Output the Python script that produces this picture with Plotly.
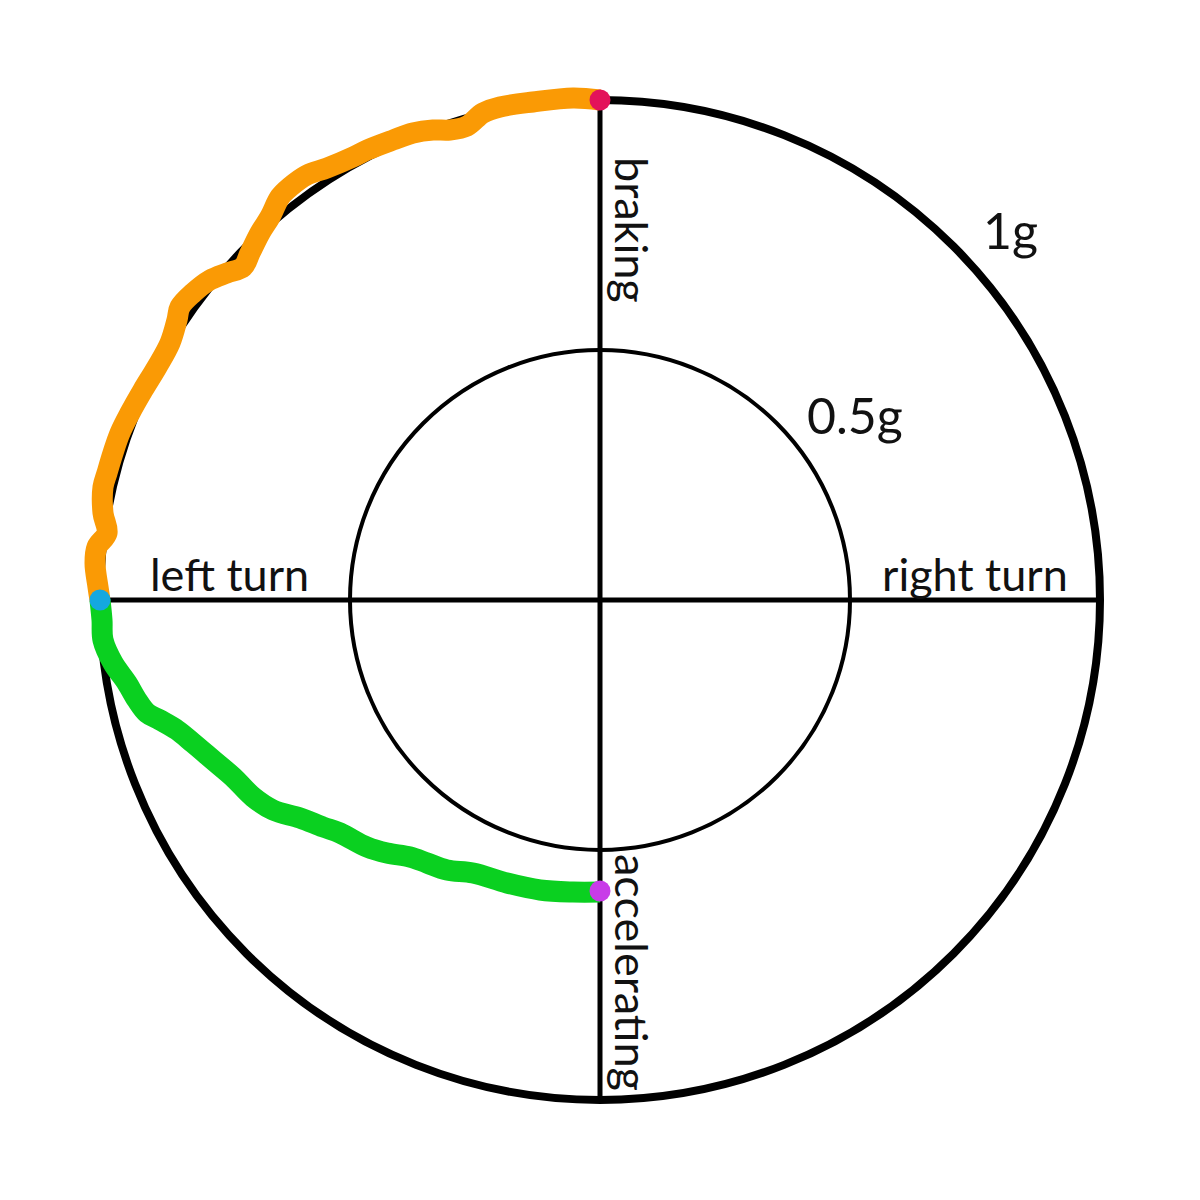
import plotly.graph_objects as go

# Friction circle rings (g)
ring_radii = [1.0, 0.5]
ring_widths = [8, 4]
ring_labels = ["1g", "0.5g"]
ring_label_x = [0.82, 0.51]
ring_label_y = [0.74, 0.37]

# Axis labels
axis_labels = ["left turn", "right turn", "braking", "accelerating"]
axis_label_x = [-0.742, 0.75, 0.064, 0.064]
axis_label_y = [0.052, 0.052, 0.74, -0.744]
axis_label_angle = [0, 0, 90, 90]

# Braking into left turn (lateral g, longitudinal g)
brake_x = [0, -0.054, -0.134, -0.2, -0.234, -0.266, -0.3, -0.334, -0.374, -0.414,
           -0.466, -0.494, -0.546, -0.586, -0.62, -0.64, -0.66, -0.68, -0.7, -0.714,
           -0.746, -0.78, -0.814, -0.84, -0.846, -0.86, -0.886, -0.914, -0.94, -0.96,
           -0.974, -0.986, -0.994, -0.994, -0.986, -1.006, -1.01, -1.004, -1.0]
brake_y = [1.0, 1.004, 0.996, 0.986, 0.974, 0.948, 0.94, 0.94, 0.934, 0.92,
           0.9, 0.886, 0.864, 0.85, 0.826, 0.806, 0.766, 0.734, 0.694, 0.666,
           0.654, 0.64, 0.614, 0.586, 0.56, 0.514, 0.466, 0.42, 0.374, 0.334,
           0.294, 0.254, 0.226, 0.174, 0.134, 0.106, 0.074, 0.026, 0.0]

# Accelerating out of left turn
accel_x = [-1.0, -0.996, -0.994, -0.974, -0.946, -0.926, -0.906, -0.88, -0.846,
           -0.814, -0.774, -0.734, -0.694, -0.654, -0.6, -0.554, -0.52, -0.466,
           -0.426, -0.38, -0.346, -0.306, -0.254, -0.186, -0.12, -0.054, 0]
accel_y = [0, -0.04, -0.08, -0.126, -0.166, -0.2, -0.226, -0.24, -0.26,
           -0.286, -0.32, -0.354, -0.394, -0.42, -0.436, -0.454, -0.466, -0.494,
           -0.506, -0.514, -0.526, -0.54, -0.546, -0.566, -0.58, -0.584, -0.584]

# Key points
pt_x = [0, -1.0, 0]
pt_y = [1.0, 0.0, -0.582]
pt_colors = ["#E3125A", "#14A8E0", "#C83CE8"]

fig = go.Figure()

shapes = []
for r, w in zip(ring_radii, ring_widths):
    shapes.append(dict(type="circle", xref="x", yref="y", x0=-r, y0=-r, x1=r, y1=r,
                       line=dict(color="black", width=w), layer="below"))
R = ring_radii[0]
shapes.append(dict(type="line", xref="x", yref="y", x0=-R, y0=0, x1=R, y1=0,
                   line=dict(color="black", width=5), layer="below"))
shapes.append(dict(type="line", xref="x", yref="y", x0=0, y0=-R, x1=0, y1=R,
                   line=dict(color="black", width=5), layer="below"))

fig.add_trace(go.Scatter(x=brake_x, y=brake_y, mode="lines",
                         line=dict(color="#FA9A05", width=21, shape="spline"),
                         hoverinfo="skip", showlegend=False))
fig.add_trace(go.Scatter(x=accel_x, y=accel_y, mode="lines",
                         line=dict(color="#0AD020", width=21, shape="spline"),
                         hoverinfo="skip", showlegend=False))
fig.add_trace(go.Scatter(x=pt_x, y=pt_y, mode="markers",
                         marker=dict(color=pt_colors, size=21, line=dict(width=0)),
                         hoverinfo="skip", showlegend=False))

annotations = []
for t, x, y in zip(ring_labels, ring_label_x, ring_label_y):
    annotations.append(dict(text=t, x=x, y=y, xref="x", yref="y", showarrow=False,
                            font=dict(family="Lato", size=50, color="#111111")))
for t, x, y, a in zip(axis_labels, axis_label_x, axis_label_y, axis_label_angle):
    annotations.append(dict(text=t, x=x, y=y, xref="x", yref="y", showarrow=False,
                            textangle=a,
                            font=dict(family="Lato", size=45, color="#111111")))

# page body margin offset (8 px) compensated in the axis ranges
off = 8 / 500
fig.update_layout(
    width=1200, height=1200,
    margin=dict(l=0, r=0, t=0, b=0),
    paper_bgcolor="white", plot_bgcolor="white",
    xaxis=dict(range=[-1.2 + off, 1.2 + off], visible=False, fixedrange=True),
    yaxis=dict(range=[-1.2 - off, 1.2 - off], visible=False, fixedrange=True),
    shapes=shapes, annotations=annotations,
)

fig.write_html("out.html")
